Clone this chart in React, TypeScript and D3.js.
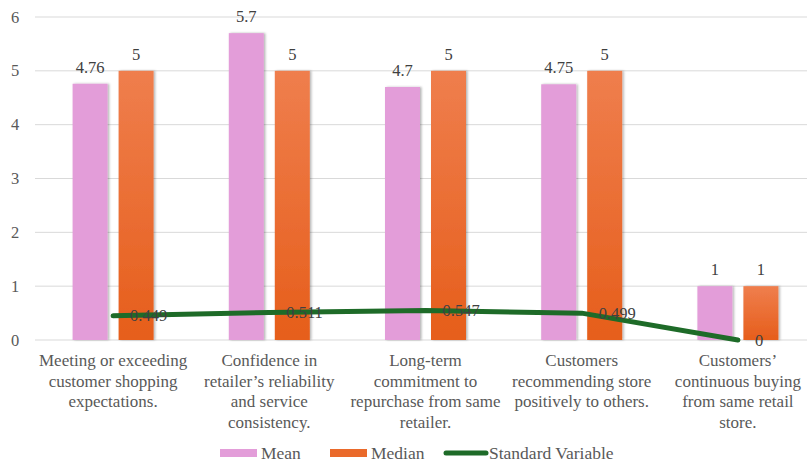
import { useEffect, useRef } from "react"
import * as d3 from "d3"

const categories = [
  ["Meeting or exceeding", "customer shopping", "expectations."],
  ["Confidence in", "retailer\u2019s reliability", "and service", "consistency."],
  ["Long-term", "commitment to", "repurchase from same", "retailer."],
  ["Customers", "recommending store", "positively to others."],
  ["Customers\u2019", "continuous buying", "from same retail", "store."],
]
const meanValues = [4.76, 5.7, 4.7, 4.75, 1]
const medianValues = [5, 5, 5, 5, 1]
const stdValues = [0.449, 0.511, 0.547, 0.499, 0]
const yTicks = [0, 1, 2, 3, 4, 5, 6]

export default function App() {
  const svgRef = useRef<SVGSVGElement>(null)
  const width = 807
  const height = 464

  useEffect(() => {
    if (!svgRef.current) return
    const svg = d3.select(svgRef.current)
    svg.selectAll("*").remove()

    const font = "Liberation Serif, DejaVu Serif, serif"
    const left = 35, right = 816, top = 17, bottom = 340

    const defs = svg.append("defs")
    const grad = defs.append("linearGradient").attr("id", "medGrad")
      .attr("x1", 0).attr("y1", 0).attr("x2", 0).attr("y2", 1)
    grad.append("stop").attr("offset", "0%").attr("stop-color", "#ef7e4d")
    grad.append("stop").attr("offset", "100%").attr("stop-color", "#e65e1b")
    const shadow = defs.append("filter").attr("id", "shadow")
      .attr("x", "-20%").attr("y", "-5%").attr("width", "140%").attr("height", "110%")
    shadow.append("feDropShadow").attr("dx", 1.5).attr("dy", 0).attr("stdDeviation", 1.2)
      .attr("flood-color", "#000").attr("flood-opacity", 0.3)

    const x = d3.scaleBand<number>().domain(d3.range(categories.length)).range([left, right])
    const y = d3.scaleLinear().domain([0, 6]).range([bottom, top])

    // gridlines
    svg.append("g").selectAll("line").data(yTicks).enter().append("line")
      .attr("x1", left).attr("x2", width)
      .attr("y1", d => y(d)).attr("y2", d => y(d))
      .attr("stroke", "#d9d9d9").attr("stroke-width", 1)

    // y tick labels
    svg.append("g").selectAll("text").data(yTicks).enter().append("text")
      .attr("x", 15).attr("y", d => y(d) + 5.5)
      .attr("text-anchor", "middle")
      .style("font-family", font).attr("font-size", 16.5).attr("fill", "#595959")
      .text(d => d)

    const barW = 35, gap = 11
    const cx = (i: number) => (x(i) as number) + x.bandwidth() / 2

    const series = [
      { values: meanValues, fill: "#e39dd9", off: -gap / 2 - barW },
      { values: medianValues, fill: "url(#medGrad)", off: gap / 2 },
    ]
    series.forEach(s => {
      const g = svg.append("g")
      g.selectAll("rect").data(s.values).enter().append("rect")
        .attr("x", (_, i) => cx(i) + s.off)
        .attr("y", d => y(d))
        .attr("width", barW)
        .attr("height", d => bottom - y(d))
        .attr("fill", s.fill)
        .attr("filter", "url(#shadow)")
      g.selectAll("text").data(s.values).enter().append("text")
        .attr("x", (_, i) => cx(i) + s.off + barW / 2)
        .attr("y", d => y(d) - 11)
        .attr("text-anchor", "middle")
        .style("font-family", font).attr("font-size", 16.5).attr("fill", "#404040")
        .text(d => d)
    })

    // std line
    const line = d3.line<number>().x((_, i) => cx(i)).y(d => y(d))
    svg.append("path").datum(stdValues)
      .attr("d", line)
      .attr("fill", "none").attr("stroke", "#1e6b28").attr("stroke-width", 5)
      .attr("stroke-linecap", "round").attr("stroke-linejoin", "round")
    svg.append("g").selectAll("text").data(stdValues).enter().append("text")
      .attr("x", (_, i) => cx(i) + 17)
      .attr("y", d => y(d) + 5.5)
      .style("font-family", font).attr("font-size", 16.5).attr("fill", "#404040")
      .text(d => d)

    // category labels
    const cat = svg.append("g")
    categories.forEach((lines, i) => {
      const t = cat.append("text")
        .attr("text-anchor", "middle")
        .style("font-family", font).attr("font-size", 17).attr("fill", "#595959")
      lines.forEach((ln, j) => {
        t.append("tspan").attr("x", cx(i)).attr("y", 366 + j * 20.5).text(ln)
      })
    })

    // legend
    const legend = [
      { label: "Mean", type: "rect", color: "#e39dd9", x: 220 },
      { label: "Median", type: "rect", color: "#ea6a2b", x: 330 },
      { label: "Standard Variable", type: "line", color: "#1e6b28", x: 446 },
    ]
    const lg = svg.append("g")
    legend.forEach(l => {
      if (l.type === "rect") {
        lg.append("rect").attr("x", l.x).attr("y", 449).attr("width", 37).attr("height", 8).attr("fill", l.color)
      } else {
        lg.append("line").attr("x1", l.x).attr("x2", l.x + 40).attr("y1", 453).attr("y2", 453)
          .attr("stroke", l.color).attr("stroke-width", 5).attr("stroke-linecap", "round")
      }
      lg.append("text").attr("x", l.x + (l.type === "rect" ? 41 : 43)).attr("y", 459)
        .style("font-family", font).attr("font-size", 17.5).attr("fill", "#595959")
        .text(l.label)
    })
  }, [])

  return (
    <svg ref={svgRef} width={width} height={height}
      style={{ display: "block", position: "absolute", left: 0, top: 0, background: "#fff" }} />
  )
}
